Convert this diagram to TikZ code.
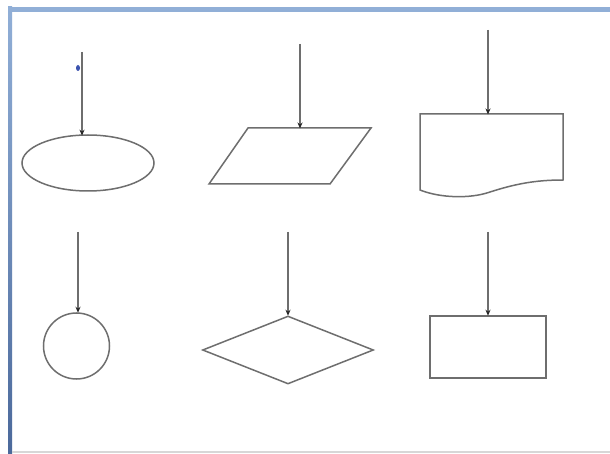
\documentclass[tikz,border=0pt]{standalone}
\usetikzlibrary{arrows.meta,shapes.geometric}
\definecolor{strokegray}{RGB}{110,110,110}
\definecolor{tipgray}{RGB}{40,40,40}
\definecolor{framelight}{RGB}{145,175,215}
\definecolor{framedark}{RGB}{75,105,155}
\definecolor{edgegray}{RGB}{215,215,215}
\tikzset{
  outline/.style={draw=strokegray, line width=1.5pt, fill=white, inner sep=0pt},
  feed/.style={draw=strokegray, line width=1.5pt,
    -{Stealth[length=6pt,width=5pt,color=tipgray,fill=tipgray]}, shorten >=-0.5pt}
}
\begin{document}
\begin{tikzpicture}[x=1pt,y=-1pt]
  % canvas
  \fill[white] (0,0) rectangle (610,454);
  \useasboundingbox (0,0) rectangle (610,454);
  % window frame
  \fill[framelight] (8,7) rectangle (610,12);
  \shade[top color=framelight, bottom color=framedark] (8,7) rectangle (12,454);
  \fill[edgegray] (12,451) rectangle (610,453);
  \fill[framedark!80!blue] (78,68) ellipse (2pt and 3pt);

  % top row
  \node[outline, ellipse, minimum width=132pt, minimum height=56pt] (term) at (88,163) {};
  \draw[outline, line join=miter] (248,128) -- (371,128) -- (330,184) -- (209,184) -- cycle;
  \coordinate (io) at (300,128);
  \draw[outline] (420,114) -- (563,114) -- (563,180)
     .. controls (535,180) and (515,184) .. (490,192)
     .. controls (470,199) and (440,198) .. (420,190) -- cycle;
  \coordinate (doc) at (488,114);

  % bottom row
  \node[outline, circle, minimum size=66pt] (conn) at (76.5,346) {};
  \node[outline, diamond, minimum width=171pt, minimum height=68pt] (dec) at (288,350) {};
  \node[outline, rectangle, minimum width=116pt, minimum height=62pt] (proc) at (488,347) {};

  % incoming arrows
  \coordinate (s1) at (82,52);
  \coordinate (e1) at (82,135.2);
  \coordinate (s2) at (300,44);
  \coordinate (s3) at (488,30);
  \coordinate (s4) at (78,232);
  \coordinate (s5) at (288,232);
  \coordinate (s6) at (488,232);
  \draw[feed] (s1) -- (e1);
  \draw[feed] (s2) -- (io);
  \draw[feed] (s3) -- (doc);
  \draw[feed] (s4) -- (s4 |- conn.north);
  \draw[feed] (s5) -- (dec.north);
  \draw[feed] (s6) -- (proc.north);
\end{tikzpicture}
\end{document}
